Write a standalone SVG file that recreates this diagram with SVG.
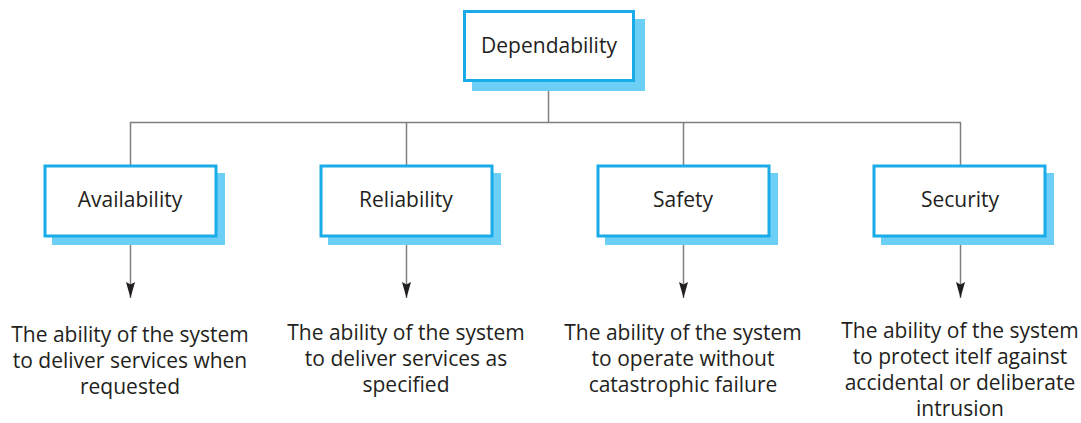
<svg xmlns="http://www.w3.org/2000/svg" width="1081" height="423" viewBox="0 0 1081 423">
<defs>
<style>
.shadow{fill:#6DCFF6;stroke:none}
.box{fill:#ffffff;stroke:#19ACE8;stroke-width:3}
.label{font-family:"Open Sans","Noto Sans",sans-serif;font-size:21px;font-weight:500;fill:#231F20;text-anchor:middle}
.desc{font-family:"Open Sans","Noto Sans",sans-serif;font-size:21px;font-weight:500;fill:#231F20;text-anchor:middle}
.line{fill:none;stroke:#7F7F7F;stroke-width:1.5}
</style>
<marker id="arrow" markerUnits="userSpaceOnUse" markerWidth="16" markerHeight="10" viewBox="0 0 16 10" refX="16" refY="5" orient="auto">
<path d="M0,0.5 L16,5 L0,9.5 L2.5,5 Z" fill="#231F20"/>
</marker>
</defs>
<rect width="1081" height="423" fill="#ffffff"/>
<g id="connectors">
<path class="line" d="M548.5,82 V122.5 M130.5,165 V122.5 H960.5 V165 M406.5,122.5 V165 M683.5,122.5 V165"/>
<line class="line" x1="130.5" y1="237" x2="130.5" y2="298" marker-end="url(#arrow)"/>
<line class="line" x1="406.5" y1="237" x2="406.5" y2="298" marker-end="url(#arrow)"/>
<line class="line" x1="683.5" y1="237" x2="683.5" y2="298" marker-end="url(#arrow)"/>
<line class="line" x1="960.5" y1="237" x2="960.5" y2="298" marker-end="url(#arrow)"/>
</g>
<g id="dependability">
<rect class="shadow" x="472" y="19" width="173" height="72"/>
<rect class="box" x="464.5" y="11.5" width="169" height="69"/>
<text class="label" x="549" y="53">Dependability</text>
</g>
<g id="availability">
<rect class="shadow" x="52" y="173" width="173" height="72"/>
<rect class="box" x="45" y="166" width="171" height="70"/>
<text class="label" x="130" y="207">Availability</text>
</g>
<g id="reliability">
<rect class="shadow" x="328" y="173" width="173" height="72"/>
<rect class="box" x="321" y="166" width="171" height="70"/>
<text class="label" x="406" y="207">Reliability</text>
</g>
<g id="safety">
<rect class="shadow" x="605" y="173" width="173" height="72"/>
<rect class="box" x="598" y="166" width="171" height="70"/>
<text class="label" x="683" y="207">Safety</text>
</g>
<g id="security">
<rect class="shadow" x="881" y="173" width="173" height="72"/>
<rect class="box" x="874" y="166" width="171" height="70"/>
<text class="label" x="960" y="207">Security</text>
</g>
<g id="availability-desc">
<text class="desc" x="130" y="342">The ability of the system</text>
<text class="desc" x="130" y="368">to deliver services when</text>
<text class="desc" x="130" y="394">requested</text>
</g>
<g id="reliability-desc">
<text class="desc" x="406" y="340">The ability of the system</text>
<text class="desc" x="406" y="366">to deliver services as</text>
<text class="desc" x="406" y="392">specified</text>
</g>
<g id="safety-desc">
<text class="desc" x="683" y="340">The ability of the system</text>
<text class="desc" x="683" y="366">to operate without</text>
<text class="desc" x="683" y="392">catastrophic failure</text>
</g>
<g id="security-desc">
<text class="desc" x="960" y="338">The ability of the system</text>
<text class="desc" x="960" y="364">to protect itelf against</text>
<text class="desc" x="960" y="390">accidental or deliberate</text>
<text class="desc" x="960" y="416">intrusion</text>
</g>
</svg>
